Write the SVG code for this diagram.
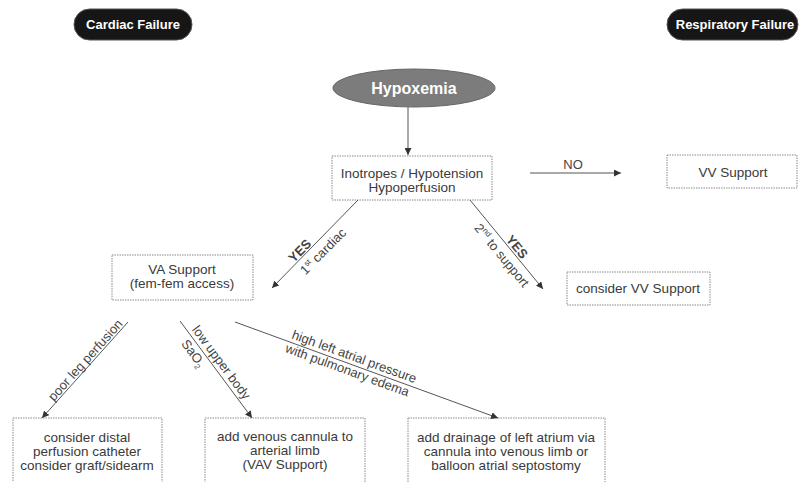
<svg xmlns="http://www.w3.org/2000/svg" width="799" height="482" viewBox="0 0 799 482">
<style>
.box{fill:#fff;stroke:#8a8a8a;stroke-width:1;stroke-dasharray:1.5 1}
.t{font-family:"Liberation Sans",Arial,sans-serif;font-size:13.5px;fill:#3a3a3a;text-anchor:middle}
.l{font-family:"Liberation Sans",Arial,sans-serif;font-size:13px;fill:#444;text-anchor:middle}
.b{font-weight:bold}
.pill{fill:#161616;stroke:#555;stroke-width:1}
.pt{font-family:"Liberation Sans",Arial,sans-serif;font-size:13px;font-weight:bold;fill:#fff;text-anchor:middle}
.c{stroke:#555;stroke-width:1;fill:none;marker-end:url(#ah)}
</style>
<defs>
<marker id="ah" viewBox="0 0 10 10" refX="10" refY="5" markerWidth="7" markerHeight="7" markerUnits="userSpaceOnUse" orient="auto">
<path d="M0,0 L10,5 L0,10 z" fill="#333"/>
</marker>
</defs>
<rect width="799" height="482" fill="#fff"/>

<g id="cardiac-failure">
<rect class="pill" x="74" y="9" width="118" height="31" rx="15.5"/>
<text class="pt" x="133" y="29">Cardiac Failure</text>
</g>
<g id="respiratory-failure">
<rect class="pill" x="667" y="9" width="131" height="31" rx="15.5"/>
<text class="pt" x="735" y="29">Respiratory Failure</text>
</g>
<g id="hypoxemia">
<ellipse cx="414" cy="88" rx="81" ry="19" fill="#7c7c7c" stroke="#666"/>
<text class="pt" style="font-size:16px" x="414" y="94">Hypoxemia</text>
</g>
<g id="inotropes">
<rect class="box" x="332" y="156" width="160" height="44"/>
<text class="t" x="412" y="178">Inotropes / Hypotension</text>
<text class="t" x="412" y="192">Hypoperfusion</text>
</g>
<g id="vv-support">
<rect class="box" x="667" y="155" width="130" height="33"/>
<text class="t" x="733" y="177">VV Support</text>
</g>
<g id="va-support">
<rect class="box" x="112" y="255" width="141" height="45"/>
<text class="t" x="182" y="274">VA Support</text>
<text class="t" x="182" y="288">(fem-fem access)</text>
</g>
<g id="consider-vv">
<rect class="box" x="567" y="272" width="143" height="33"/>
<text class="t" x="638" y="293">consider VV Support</text>
</g>
<g id="distal">
<rect class="box" x="13" y="418" width="149" height="80"/>
<text class="t" x="87" y="442">consider distal</text>
<text class="t" x="87" y="456">perfusion catheter</text>
<text class="t" x="87" y="470">consider graft/sidearm</text>
</g>
<g id="venous-cannula">
<rect class="box" x="205" y="418" width="160" height="80"/>
<text class="t" x="285" y="441">add venous cannula to</text>
<text class="t" x="285" y="455">arterial limb</text>
<text class="t" x="285" y="469">(VAV Support)</text>
</g>
<g id="drainage">
<rect class="box" x="408" y="418" width="197" height="80"/>
<text class="t" x="506" y="442">add drainage of left atrium via</text>
<text class="t" x="506" y="456">cannula into venous limb or</text>
<text class="t" x="506" y="470">balloon atrial septostomy</text>
</g>

<g id="connectors">
<line class="c" x1="408" y1="107" x2="408" y2="155"/>
<line class="c" x1="530" y1="173" x2="621" y2="173"/>
<text class="l" x="573" y="169">NO</text>
<line class="c" x1="358" y1="200" x2="272" y2="288"/>
<g transform="translate(272,288) rotate(-45.3)">
<text class="l b" x="46" y="-2">YES</text>
<text class="l" x="62" y="15">1<tspan font-size="8" dy="-5">st</tspan><tspan dy="5"> cardiac</tspan></text>
</g>
<line class="c" x1="470" y1="200" x2="543" y2="289"/>
<g transform="translate(470,200) rotate(50.6)">
<text class="l b" x="66" y="-2">YES</text>
<text class="l" x="63" y="15">2<tspan font-size="8" dy="-5">nd</tspan><tspan dy="5"> to support</tspan></text>
</g>
<line class="c" x1="128" y1="322" x2="42" y2="418"/>
<g transform="translate(42,418) rotate(-48.1)">
<text class="l" x="72" y="-2">poor leg perfusion</text>
</g>
<line class="c" x1="180" y1="321" x2="252" y2="418"/>
<g transform="translate(180,321) rotate(53.4)">
<text class="l" x="58" y="-4">low upper body</text>
<text class="l" x="34" y="13">SaO<tspan font-size="8" dy="3">2</tspan></text>
</g>
<line class="c" x1="235" y1="322" x2="498" y2="418"/>
<g transform="translate(235,322) rotate(20.05)">
<text class="l" x="124" y="-4">high left atrial pressure</text>
<text class="l" x="122" y="11">with pulmonary edema</text>
</g>
</g>
</svg>
